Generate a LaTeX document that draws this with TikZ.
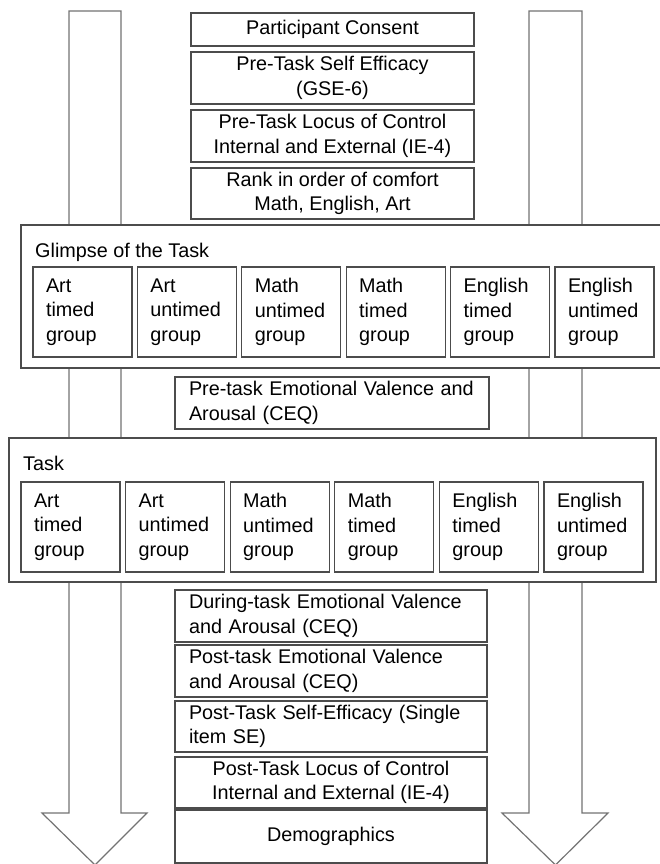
\documentclass[tikz,border=0pt]{standalone}
\usepackage{fontspec}
\setmainfont{Liberation Sans}
\usetikzlibrary{positioning}
\newcommand{\boxfont}{\fontsize{19.8}{24.5}\selectfont}
\tikzset{
  stepbox/.style={draw=black!70, line width=1.2pt, fill=white, rectangle, inner sep=0pt, align=center, font=\boxfont},
  leftbox/.style={stepbox, align=left, inner xsep=14pt},
  groupbox/.style={stepbox, align=left, inner xsep=13pt, text width=73pt, minimum width=99pt, minimum height=90pt},
  phasebox/.style={draw=black!70, line width=1.2pt, fill=white, rectangle, inner sep=0pt},
  phaselabel/.style={anchor=west, inner sep=0pt, font=\boxfont},
  flowarrow/.style={draw=black!55, line width=1.2pt, fill=white, line join=miter}
}
\begin{document}
\begin{tikzpicture}[x=1pt,y=-1pt]
\useasboundingbox (0,0) rectangle (659,864);
\draw [flowarrow] (69,11) -- (121,11) -- (121,813) -- (147,813) -- (95,865) -- (42,813) -- (69,813) -- cycle;
\draw [flowarrow] (529,11) -- (582,11) -- (582,813) -- (608,813) -- (555.5,865) -- (502,813) -- (529,813) -- cycle;
\node (consent) at (332.5,29.5) [stepbox, minimum width=283pt, minimum height=33pt] {Participant Consent};
\node (preSE) at (332.5,78) [stepbox, minimum width=283pt, minimum height=52pt] {Pre-Task Self Efficacy\\(GSE-6)};
\node (preLoc) at (332.5,136) [stepbox, minimum width=283pt, minimum height=52pt] {Pre-Task Locus of Control\\Internal and External (IE-4)};
\node (rank) at (332.5,193.5) [stepbox, minimum width=283pt, minimum height=51pt] {Rank in order of comfort\\Math, English, Art};
\node (glimpse) at (341.5,296.5) [phasebox, minimum width=641pt, minimum height=143pt] {};
\node (glimpseLabel) at (35,252) [phaselabel] {Glimpse of the Task};
\node (gArtT) at (82.5,312) [groupbox] {Art\\timed\\group};
\node (gArtU) at (186.9,312) [groupbox] {Art\\untimed\\group};
\node (gMathU) at (291.3,312) [groupbox] {Math\\untimed\\group};
\node (gMathT) at (395.7,312) [groupbox] {Math\\timed\\group};
\node (gEngT) at (500.1,312) [groupbox] {English\\timed\\group};
\node (gEngU) at (604.5,312) [groupbox] {English\\untimed\\group};
\node (preEmo) at (332,403) [leftbox, text width=286pt, minimum width=314pt, minimum height=52pt] {Pre-task Emotional Valence and\\Arousal (CEQ)};
\node (task) at (332.5,510) [phasebox, minimum width=647pt, minimum height=144pt] {};
\node (taskLabel) at (23,463) [phaselabel] {Task};
\node (tArtT) at (70.5,527) [groupbox] {Art\\timed\\group};
\node (tArtU) at (175.1,527) [groupbox] {Art\\untimed\\group};
\node (tMathU) at (279.7,527) [groupbox] {Math\\untimed\\group};
\node (tMathT) at (384.3,527) [groupbox] {Math\\timed\\group};
\node (tEngT) at (488.9,527) [groupbox] {English\\timed\\group};
\node (tEngU) at (593.5,527) [groupbox] {English\\untimed\\group};
\node (duringEmo) at (331,616) [leftbox, text width=284pt, minimum width=312pt, minimum height=52pt] {During-task Emotional Valence\\and Arousal (CEQ)};
\node (postEmo) at (331,671) [leftbox, text width=284pt, minimum width=312pt, minimum height=52pt] {Post-task Emotional Valence\\and Arousal (CEQ)};
\node (postSE) at (331,726.5) [leftbox, text width=284pt, minimum width=312pt, minimum height=51pt] {Post-Task Self-Efficacy (Single\\item SE)};
\node (postLoc) at (331,782.5) [stepbox, minimum width=312pt, minimum height=51pt] {Post-Task Locus of Control\\Internal and External (IE-4)};
\node (demo) at (331,836.5) [stepbox, minimum width=312pt, minimum height=53pt] {Demographics};
\end{tikzpicture}
\end{document}
